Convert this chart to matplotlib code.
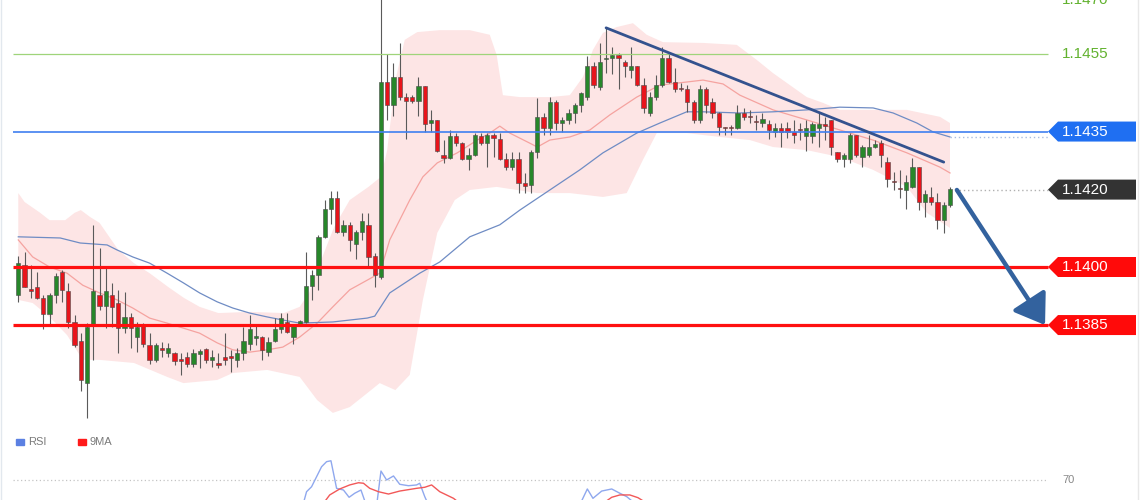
import matplotlib
matplotlib.use('Agg')

import matplotlib.pyplot as plt
from matplotlib.patches import Polygon, Rectangle
import numpy as np

plt.rcParams['font.family'] = ['Liberation Sans', 'DejaVu Sans']

# ---- candle data (EURUSD) ----
opens = [1.13928, 1.14005, 1.13943, 1.13948, 1.13920, 1.13879, 1.13928, 1.13987, 1.13938, 1.13858,
         1.13809, 1.13700, 1.13853, 1.13928, 1.13899, 1.13928, 1.13907, 1.13842, 1.13871, 1.13819,
         1.13848, 1.13798, 1.13760, 1.13791, 1.13778, 1.13778, 1.13762, 1.13767, 1.13749, 1.13775,
         1.13788, 1.13760, 1.13752, 1.13767, 1.13770, 1.13760, 1.13778, 1.13801, 1.13817, 1.13819,
         1.13780, 1.13809, 1.13840, 1.13858, 1.13819, 1.13853, 1.13858, 1.13951, 1.13979, 1.14078,
         1.14150, 1.14178, 1.14090, 1.14109, 1.14059, 1.14090, 1.14109, 1.14028, 1.13974, 1.14478,
         1.14419, 1.14491, 1.14439, 1.14439, 1.14429, 1.14468, 1.14372, 1.14380, 1.14289, 1.14282,
         1.14339, 1.14320, 1.14279, 1.14289, 1.14339, 1.14320, 1.14341, 1.14331, 1.14279, 1.14258,
         1.14279, 1.14217, 1.14212, 1.14297, 1.14388, 1.14359, 1.14426, 1.14372, 1.14380, 1.14398,
         1.14419, 1.14439, 1.14519, 1.14465, 1.14537, 1.14540, 1.14548, 1.14530, 1.14509, 1.14519,
         1.14470, 1.14398, 1.14439, 1.14470, 1.14540, 1.14478, 1.14460, 1.14460, 1.14426, 1.14380,
         1.14460, 1.14426, 1.14398, 1.14359, 1.14359, 1.14359, 1.14398, 1.14388, 1.14375, 1.14372,
         1.14370, 1.14349, 1.14359, 1.14359, 1.14349, 1.14354, 1.14339, 1.14339, 1.14359, 1.14370,
         1.14380, 1.14297, 1.14279, 1.14279, 1.14341, 1.14284, 1.14289, 1.14310, 1.14320, 1.14271,
         1.14222, 1.14204, 1.14199, 1.14207, 1.14258, 1.14168, 1.14181, 1.14168, 1.14121, 1.14160]
highs = [1.14028, 1.14039, 1.14005, 1.13987, 1.13928, 1.13933, 1.13984, 1.13992, 1.13959, 1.13876,
         1.13829, 1.13855, 1.14109, 1.14049, 1.14003, 1.13959, 1.13941, 1.13935, 1.13881, 1.13858,
         1.13855, 1.13829, 1.13804, 1.13806, 1.13804, 1.13780, 1.13778, 1.13780, 1.13788, 1.13788,
         1.13791, 1.13786, 1.13778, 1.13829, 1.13786, 1.13791, 1.13845, 1.13876, 1.13850, 1.13822,
         1.13819, 1.13868, 1.13881, 1.13881, 1.13853, 1.13863, 1.14039, 1.13992, 1.14083, 1.14173,
         1.14196, 1.14196, 1.14121, 1.14116, 1.14096, 1.14140, 1.14140, 1.14036, 1.14703, 1.14550,
         1.14527, 1.14579, 1.14450, 1.14444, 1.14491, 1.14468, 1.14406, 1.14380, 1.14328, 1.14354,
         1.14346, 1.14323, 1.14308, 1.14346, 1.14346, 1.14346, 1.14346, 1.14346, 1.14295, 1.14297,
         1.14297, 1.14243, 1.14302, 1.14437, 1.14398, 1.14439, 1.14432, 1.14388, 1.14408, 1.14424,
         1.14452, 1.14545, 1.14530, 1.14579, 1.14620, 1.14568, 1.14553, 1.14535, 1.14568, 1.14519,
         1.14488, 1.14452, 1.14496, 1.14568, 1.14553, 1.14514, 1.14475, 1.14470, 1.14432, 1.14470,
         1.14465, 1.14437, 1.14401, 1.14362, 1.14367, 1.14419, 1.14411, 1.14406, 1.14393, 1.14398,
         1.14380, 1.14372, 1.14372, 1.14375, 1.14380, 1.14372, 1.14380, 1.14375, 1.14401, 1.14388,
         1.14380, 1.14297, 1.14295, 1.14346, 1.14341, 1.14315, 1.14341, 1.14328, 1.14328, 1.14284,
         1.14245, 1.14251, 1.14238, 1.14282, 1.14258, 1.14199, 1.14207, 1.14191, 1.14168, 1.14207]
lows = [1.13910, 1.13948, 1.13920, 1.13917, 1.13840, 1.13848, 1.13907, 1.13910, 1.13842, 1.13793,
        1.13680, 1.13610, 1.13760, 1.13889, 1.13842, 1.13845, 1.13778, 1.13829, 1.13791, 1.13780,
        1.13793, 1.13749, 1.13755, 1.13767, 1.13767, 1.13747, 1.13721, 1.13742, 1.13742, 1.13739,
        1.13752, 1.13742, 1.13739, 1.13747, 1.13729, 1.13742, 1.13760, 1.13786, 1.13798, 1.13760,
        1.13770, 1.13806, 1.13829, 1.13829, 1.13801, 1.13850, 1.13855, 1.13915, 1.13941, 1.14075,
        1.14111, 1.14088, 1.14080, 1.14041, 1.14021, 1.14070, 1.14000, 1.13948, 1.13969, 1.14380,
        1.14390, 1.14432, 1.14331, 1.14424, 1.14390, 1.14349, 1.14349, 1.14297, 1.14269, 1.14279,
        1.14313, 1.14277, 1.14251, 1.14287, 1.14315, 1.14258, 1.14284, 1.14277, 1.14251, 1.14251,
        1.14191, 1.14191, 1.14191, 1.14282, 1.14341, 1.14341, 1.14354, 1.14349, 1.14370, 1.14372,
        1.14401, 1.14432, 1.14463, 1.14457, 1.14501, 1.14499, 1.14460, 1.14491, 1.14488, 1.14468,
        1.14398, 1.14390, 1.14432, 1.14465, 1.14475, 1.14452, 1.14455, 1.14401, 1.14372, 1.14372,
        1.14398, 1.14385, 1.14341, 1.14341, 1.14341, 1.14357, 1.14380, 1.14372, 1.14354, 1.14362,
        1.14331, 1.14336, 1.14310, 1.14333, 1.14320, 1.14328, 1.14300, 1.14320, 1.14310, 1.14328,
        1.14289, 1.14271, 1.14258, 1.14269, 1.14284, 1.14258, 1.14284, 1.14308, 1.14258, 1.14207,
        1.14199, 1.14178, 1.14150, 1.14204, 1.14147, 1.14129, 1.14160, 1.14098, 1.14088, 1.14155]
closes = [1.14010, 1.13949, 1.13938, 1.13920, 1.13879, 1.13928, 1.13977, 1.13941, 1.13858, 1.13798,
          1.13708, 1.13845, 1.13938, 1.13899, 1.13938, 1.13897, 1.13842, 1.13871, 1.13842, 1.13845,
          1.13801, 1.13760, 1.13798, 1.13786, 1.13791, 1.13757, 1.13757, 1.13749, 1.13778, 1.13783,
          1.13760, 1.13767, 1.13747, 1.13760, 1.13765, 1.13778, 1.13809, 1.13840, 1.13822, 1.13786,
          1.13806, 1.13840, 1.13868, 1.13832, 1.13850, 1.13860, 1.13951, 1.13979, 1.14078, 1.14150,
          1.14178, 1.14090, 1.14109, 1.14070, 1.14090, 1.14119, 1.14026, 1.13979, 1.14478, 1.14419,
          1.14491, 1.14439, 1.14429, 1.14429, 1.14468, 1.14370, 1.14380, 1.14300, 1.14282, 1.14339,
          1.14320, 1.14279, 1.14289, 1.14341, 1.14320, 1.14341, 1.14333, 1.14279, 1.14258, 1.14279,
          1.14217, 1.14209, 1.14297, 1.14388, 1.14359, 1.14426, 1.14372, 1.14380, 1.14398, 1.14419,
          1.14450, 1.14519, 1.14470, 1.14530, 1.14540, 1.14548, 1.14540, 1.14519, 1.14519, 1.14470,
          1.14411, 1.14439, 1.14470, 1.14540, 1.14478, 1.14460, 1.14459, 1.14426, 1.14380, 1.14460,
          1.14419, 1.14398, 1.14362, 1.14358, 1.14358, 1.14398, 1.14388, 1.14387, 1.14374, 1.14382,
          1.14354, 1.14359, 1.14349, 1.14349, 1.14341, 1.14353, 1.14359, 1.14370, 1.14370, 1.14364,
          1.14310, 1.14279, 1.14289, 1.14341, 1.14289, 1.14310, 1.14310, 1.14318, 1.14289, 1.14227,
          1.14220, 1.14202, 1.14220, 1.14258, 1.14168, 1.14189, 1.14168, 1.14121, 1.14160, 1.14202]

# bollinger band (sampled at candle positions)
bb_up_x = [0, 1, 3.5, 5, 7.5, 9, 10, 11.5, 13, 16, 18.5, 21, 24, 26.5, 29, 32, 37, 42.5, 45, 46.5,
           48, 50.5, 53, 56, 58, 59, 60.3, 61.8, 63.8, 67.4, 72.2, 75.4, 76.5, 77.5, 80.2, 85, 88.2,
           90.3, 91.9, 93.5, 95.7, 98.3, 100.5, 103.1, 109.5, 114.9, 118.1, 120.7, 126.1, 128.7,
           131.4, 136.7, 142.1, 147.4, 149]
bb_up = [1.14191, 1.14168, 1.14140, 1.14121, 1.14121, 1.14140, 1.14147, 1.14129, 1.14114, 1.14044,
         1.14010, 1.13984, 1.13948, 1.13920, 1.13897, 1.13881, 1.13884, 1.13881, 1.13897, 1.13933,
         1.14000, 1.14103, 1.14173, 1.14207, 1.14233, 1.14302, 1.14483, 1.14587, 1.14607, 1.14612,
         1.14612, 1.14600, 1.14548, 1.14444, 1.14439, 1.14439, 1.14444, 1.14491, 1.14561, 1.14605,
         1.14620, 1.14630, 1.14600, 1.14581, 1.14579, 1.14574, 1.14535, 1.14501, 1.14439, 1.14424,
         1.14406, 1.14406, 1.14406, 1.14388, 1.14372]
bb_low_x = [0, 2.3, 5, 7.8, 10.3, 13, 18.5, 23.8, 26.4, 31.8, 34.3, 39.8, 45, 47.8, 50.3, 53, 55.8,
            57.8, 60.3, 62.6, 64.7, 67, 69.8, 72.2, 76.5, 83, 88.2, 93.5, 97.3, 99.9, 102.1, 106.9,
            112.2, 117, 120.7, 126.1, 131.4, 136.7, 142.1, 145.3, 149]
bb_low = [1.13915, 1.13907, 1.13871, 1.13824, 1.13760, 1.13760, 1.13752, 1.13716, 1.13700, 1.13708,
          1.13726, 1.13734, 1.13716, 1.13656, 1.13623, 1.13638, 1.13674, 1.13700, 1.13682, 1.13721,
          1.13915, 1.14088, 1.14173, 1.14199, 1.14207, 1.14191, 1.14191, 1.14181, 1.14191, 1.14277,
          1.14346, 1.14346, 1.14336, 1.14328, 1.14310, 1.14302, 1.14284, 1.14251, 1.14207, 1.14140,
          1.14101]
bb_mid_x = [0, 2.3, 5, 7.8, 10.3, 13, 15.8, 18.3, 21, 23.8, 26.4, 29, 31.8, 34.3, 37, 39.8, 42.3, 45,
            47.8, 50.3, 53, 55.8, 57.8, 59.4, 62.6, 64.7, 67, 70.2, 73.4, 75.4, 77, 78.6, 81.8, 83,
            85, 88.2, 91.4, 94.6, 98.9, 102.6, 106.9, 109.5, 112.7, 115.4, 120.7, 126.1, 131.4,
            136.7, 142.1, 147.4, 149]
bb_mid = [1.14070, 1.14026, 1.14000, 1.13984, 1.13953, 1.13933, 1.13915, 1.13894, 1.13868, 1.13855,
          1.13842, 1.13829, 1.13804, 1.13786, 1.13780, 1.13786, 1.13793, 1.13819, 1.13855, 1.13897,
          1.13941, 1.13966, 1.13984, 1.14070, 1.14173, 1.14233, 1.14269, 1.14295, 1.14328, 1.14346,
          1.14364, 1.14346, 1.14320, 1.14310, 1.14328, 1.14336, 1.14354, 1.14393, 1.14439, 1.14470,
          1.14478, 1.14483, 1.14473, 1.14444, 1.14406, 1.14380, 1.14354, 1.14328, 1.14295, 1.14258,
          1.14243]
# slow moving average (blue)
ma_x = [0, 6.7, 9.9, 14.2, 15.8, 18.3, 21, 23.8, 26.4, 29, 31.8, 34.3, 37, 39.8, 42.3, 45, 50.3,
        55.8, 57, 59.4, 64.2, 67.4, 72.2, 77, 80.2, 85, 89.8, 93.5, 98.9, 102.6, 106.9, 109.5,
        115.4, 120.7, 126.1, 131.4, 136.7, 139.9, 143.7, 146.3, 149]
ma = [1.14078, 1.14075, 1.14062, 1.14057, 1.14044, 1.14026, 1.14010, 1.13984, 1.13959, 1.13933,
      1.13910, 1.13894, 1.13881, 1.13871, 1.13863, 1.13855, 1.13858, 1.13868, 1.13873, 1.13933,
      1.13984, 1.14013, 1.14078, 1.14109, 1.14147, 1.14199, 1.14251, 1.14295, 1.14346, 1.14372,
      1.14401, 1.14401, 1.14398, 1.14401, 1.14406, 1.14413, 1.14411, 1.14398, 1.14372, 1.14349,
      1.14336]

# RSI panel (only the part that shows above the bottom edge)
rsi_x = [45.7, 46.1, 46.9, 47.7, 48.5, 49.3, 50.0, 50.9, 52.0, 52.9, 53.8, 54.8, 55.4, np.nan,
         57.4, 58.0, 58.9, 60.0, 61.0, 62.4, 63.7, 64.2, 65.0, 65.3, np.nan,
         90.1, 91.0, 91.9, 93.3, 94.9, 96.2, 97.3, 98.1]
rsi = [54.0, 61.0, 64.8, 72.5, 80.2, 84.1, 84.8, 63.6, 62.3, 56.7, 59.8, 62.3, 54.0, np.nan,
       54.0, 76.9, 70.0, 73.1, 66.7, 65.6, 66.2, 67.5, 57.2, 54.0, np.nan,
       54.0, 63.1, 55.9, 61.5, 63.1, 59.8, 57.2, 54.0]
rsi_ma_x = [49.1, 49.8, 51.4, 53.0, 54.4, 55.2, 56.2, 57.6, 59.2, 61.0, 63.7, 65.0, 66.1, 67.4,
            69.6, 70.1, np.nan, 94.1, 94.9, 96.2, 97.8, 99.1, 99.9]
rsi_ma = [54.0, 58.5, 63.1, 66.2, 67.9, 67.5, 63.6, 61.0, 59.2, 61.5, 63.6, 64.4, 66.2, 61.0,
          55.9, 54.0, np.nan, 54.0, 56.7, 58.5, 58.5, 56.4, 54.0]

# levels and drawings
support = [1.1400, 1.1385]
resistance = 1.1455
pivot = 1.1435
last_price = 1.1420
top_level = 1.1470
trend_x, trend_y = [94.0, 148.0], [1.14618, 1.14271]
arrow_x, arrow_y = [150.1, 164.2], [1.14199, 1.13850]

# ---- layout ----
W, H = 1140, 500
N = len(opens)
x_first, x_last = 18.3, 950.0
step = (x_last - x_first) / (N - 1)
px_per_unit = 38700.0           # vertical pixels per 1.0 of price
y_top = 1.1400 + 267 / px_per_unit
y_bot = 1.1400 - (H - 267) / px_per_unit


def px2i(px):
    return (px - x_first) / step


fig = plt.figure(figsize=(W / 100, H / 100), dpi=100)
fig.patch.set_facecolor('white')
ax = fig.add_axes([0, 0, 1, 1])
ax.set_xlim(px2i(0), px2i(W))
ax.set_ylim(y_bot, y_top)
ax.axis('off')

# bands and averages
ax.fill(np.concatenate([bb_up_x, bb_low_x[::-1]]),
        np.concatenate([bb_up, bb_low[::-1]]),
        color='#fde5e5', lw=0, zorder=1)
ax.plot(bb_mid_x, bb_mid, color='#f5a3a0', lw=0.9, zorder=2)
ax.plot(ma_x, ma, color='#6f8cc4', lw=0.9, zorder=2)

# candles
idx = np.arange(N)
o = np.array(opens)
c = np.array(closes)
up = c >= o
ax.vlines(idx, lows, highs, color='#5a5a5a', lw=0.8, zorder=3)
body_h = np.maximum(np.abs(c - o), 1.2 / px_per_unit)
ax.bar(idx, body_h, bottom=np.minimum(o, c), width=0.68,
       color=np.where(up, '#27872a', '#e8141b'), edgecolor='#4a4a4a',
       linewidth=0.4, zorder=4)

# horizontal levels
xl0, xl1 = px2i(13), px2i(1048)
ax.hlines(resistance, xl0, xl1, color='#9fd47a', lw=0.9, zorder=5)
ax.hlines(pivot, xl0, xl1, color='#3f7ff0', lw=1.2, zorder=5)
ax.hlines(support, xl0, xl1, color='#ff1010', lw=2.3, zorder=5)
ax.hlines(last_price, px2i(955), xl1, color='#b0b0b0', lw=1.0,
          linestyles=(0, (1, 2)), zorder=5)
ax.hlines(ma[-1], px2i(950), xl1, color='#a9bde0', lw=1.0,
          linestyles=(0, (1, 2)), zorder=5)

# trendline and projection arrow
ax.plot(trend_x, trend_y, color='#34528e', lw=2.0, solid_capstyle='round', zorder=6)
ax.annotate('', xy=(arrow_x[1], arrow_y[1]), xytext=(arrow_x[0], arrow_y[0]),
            arrowprops=dict(arrowstyle='-|>,head_length=1.1,head_width=0.75',
                            color='#33629e', lw=3.2, mutation_scale=16,
                            shrinkA=0, shrinkB=0),
            zorder=6)

# price tags on the right
tip, shoulder, right = px2i(1048), px2i(1058), px2i(1136)
half = 10 / px_per_unit
label_x = px2i(1062)


def price_tag(price, face):
    pts = [(tip, price), (shoulder, price + half), (right, price + half),
           (right, price - half), (shoulder, price - half)]
    ax.add_patch(Polygon(pts, closed=True, facecolor=face, edgecolor='none', zorder=7))
    ax.text(label_x, price, f'{price:.4f}', color='white', fontsize=11,
            va='center', ha='left', zorder=8)


price_tag(pivot, '#1f6ff2')
price_tag(last_price, '#333333')
for s in support:
    price_tag(s, '#ff0a0a')
ax.text(label_x, resistance, f'{resistance:.4f}', color='#62b22f', fontsize=11,
        va='center', ha='left', zorder=8)
# the top level label sits half outside the picture, as in the source chart
ax.annotate(f'{top_level:.4f}', xy=(label_x, top_level), xytext=(0, -2.5),
            textcoords='offset points', color='#62b22f', fontsize=11,
            va='center', ha='left', zorder=8, annotation_clip=False)

# ---- RSI panel ----
rax = fig.add_axes([0, 0, 1, 60 / H])
rax.set_xlim(px2i(0), px2i(W))
rax.set_ylim(70 - 20 / 1.3, 70 + 40 / 1.3)
rax.axis('off')
rax.patch.set_alpha(0)
rax.hlines(70, xl0, xl1, color='#c4c4c4', lw=0.9, linestyles=(0, (1, 2)))
rax.text(label_x, 70, '70', color='#888888', fontsize=8, va='center', ha='left')
rax.plot(rsi_x, rsi, color='#8fa8ee', lw=1.0)
rax.plot(rsi_ma_x, rsi_ma, color='#f25858', lw=1.0)

# legend
for x_sq, col, lab in [(16, '#5b80e2', 'RSI'), (78, '#ff1a1a', '9MA')]:
    fig.add_artist(Rectangle((x_sq / W, 1 - 445 / H), 8 / W, 6 / H,
                             transform=fig.transFigure, color=col))
    fig.text((x_sq + 12) / W, 1 - 442 / H, lab, color='#7a7a7a', fontsize=8, va='center')

# faint frame edges
fig.add_artist(plt.Line2D([0.5 / W, 0.5 / W], [0, 1], transform=fig.transFigure,
                          color='#e2e8ee', lw=1))
fig.add_artist(plt.Line2D([1137.5 / W, 1137.5 / W], [0, 1], transform=fig.transFigure,
                          color='#e8e8e8', lw=1))

fig.savefig('out.png', dpi=100, facecolor='white')
plt.close(fig)
